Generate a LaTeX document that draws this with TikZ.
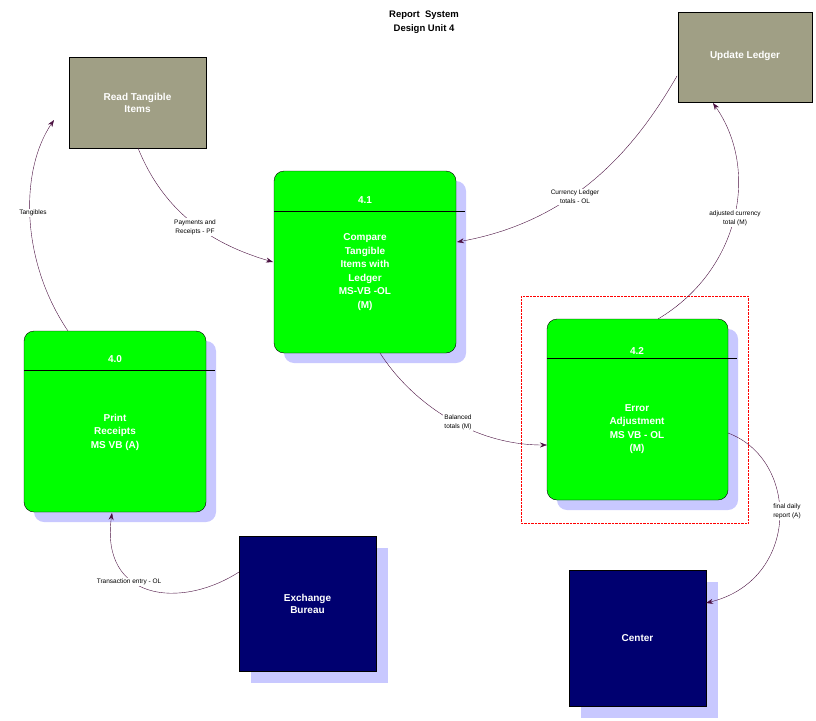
\documentclass[tikz,border=0pt]{standalone}
\usepackage{fontspec}
\setmainfont{Liberation Sans}
\usetikzlibrary{arrows.meta}
\definecolor{olive}{HTML}{A09F85}
\definecolor{shad}{HTML}{C8C8FF}
\definecolor{navyb}{HTML}{000070}
\definecolor{arr}{HTML}{4A1040}
\begin{document}
\begin{tikzpicture}[x=1pt,y=-1pt,
 ext/.style={draw=black,fill=olive,text=white,font=\bfseries\fontsize{10}{12}\selectfont,align=center},
 navy/.style={draw=black,fill=navyb,text=white,font=\bfseries\fontsize{10}{12}\selectfont,align=center},
 proc/.style={draw=black,fill=green,rounded corners=10pt},
 ptext/.style={text=white,font=\bfseries\fontsize{10}{13.5}\selectfont,align=center},
 lbl/.style={font=\fontsize{6.5}{9}\selectfont,align=center,fill=white,inner sep=1pt},
 flow/.style={draw=arr,-{Stealth[length=7pt,width=5pt]}}]
\useasboundingbox (0,0) rectangle (816,720);
\node[font=\bfseries\fontsize{9.5}{13.5}\selectfont,align=center] (title) at (424,22) {Report\ \ System\\Design Unit 4};
% externals
\node[ext,minimum width=137pt,minimum height=91pt] (rti) at (137.5,102.5) {Read Tangible\\Items};
\node[ext,minimum width=134pt,minimum height=90pt,anchor=north west] (ul) at (678,12) {};
\node[ext,draw=none,fill=none] (ult) at (745,56) {Update Ledger};
\fill[shad] (251,548) rectangle (388,683);
\node[navy,minimum width=137pt,minimum height=135pt] (eb) at (307.5,603.5) {Exchange\\Bureau};
\fill[shad] (581,582) rectangle (718,718);
\node[navy,minimum width=137pt,minimum height=136pt] (ce) at (637.5,638) {Center};
% processes
\fill[shad,rounded corners=10pt] (284,181) rectangle (466,363);
\draw[proc] (274,171) rectangle (456,353);
\draw (274,211) -- (465,211);
\node[ptext] at (365,200) {4.1};
\node[ptext] (p41) at (365,272) {Compare\\Tangible\\Items with\\Ledger\\MS-VB -OL\\(M)};
\coordinate (p41n) at (365,171);
\fill[shad,rounded corners=10pt] (34,341) rectangle (216,522);
\draw[proc] (24,331) rectangle (206,512);
\draw (24,370) -- (215,370);
\node[ptext] at (115,359) {4.0};
\node[ptext] (p40) at (115,432) {Print\\Receipts\\MS VB (A)};
\draw[red,densely dotted] (521,296) rectangle (748,523);
\fill[shad,rounded corners=10pt] (557,329) rectangle (738,510);
\draw[proc] (547,319) rectangle (728,500);
\draw (547,358) -- (737,358);
\node[ptext] at (637,351) {4.2};
\node[ptext] (p42) at (637,429) {Error\\Adjustment\\MS VB - OL\\(M)};
% flows
\coordinate (a1) at (68,331); \coordinate (a2) at (54,120);
\draw[flow] (a1) .. controls (20,260) and (20,170) .. (a2);
\node[lbl] at (33,213) {Tangibles};
\coordinate (b1) at (138,148); \coordinate (b2) at (273,262);
\draw[flow] (b1) .. controls (165,215) and (215,245) .. (b2);
\node[lbl] at (195,227) {Payments and\\Receipts - PF};
\coordinate (c1) at (677,76); \coordinate (c2) at (457,242);
\draw[flow] (c1) .. controls (640,140) and (580,220) .. (c2);
\node[lbl] at (575,197) {Currency Ledger\\totals - OL};
\coordinate (d1) at (658,319); \coordinate (d2) at (713,103);
\draw[flow] (d1) .. controls (740,270) and (760,170) .. (d2);
\node[lbl] at (735,218) {adjusted currency\\total (M)};
\coordinate (e1) at (380,353); \coordinate (e2) at (547,445);
\draw[flow] (e1) .. controls (410,400) and (470,445) .. (e2);
\node[lbl] at (458,422) {Balanced\\totals (M)};
\coordinate (f1) at (728,433); \coordinate (f2) at (706,603);
\draw[flow] (f1) .. controls (800,460) and (800,580) .. (f2);
\node[lbl] at (787,511) {final daily\\report (A)};
\coordinate (g1) at (239,572); \coordinate (g2) at (112,513);
\draw[flow] (g1) .. controls (180,610) and (100,600) .. (g2);
\node[lbl] at (129,582) {Transaction entry - OL};
\end{tikzpicture}
\end{document}
